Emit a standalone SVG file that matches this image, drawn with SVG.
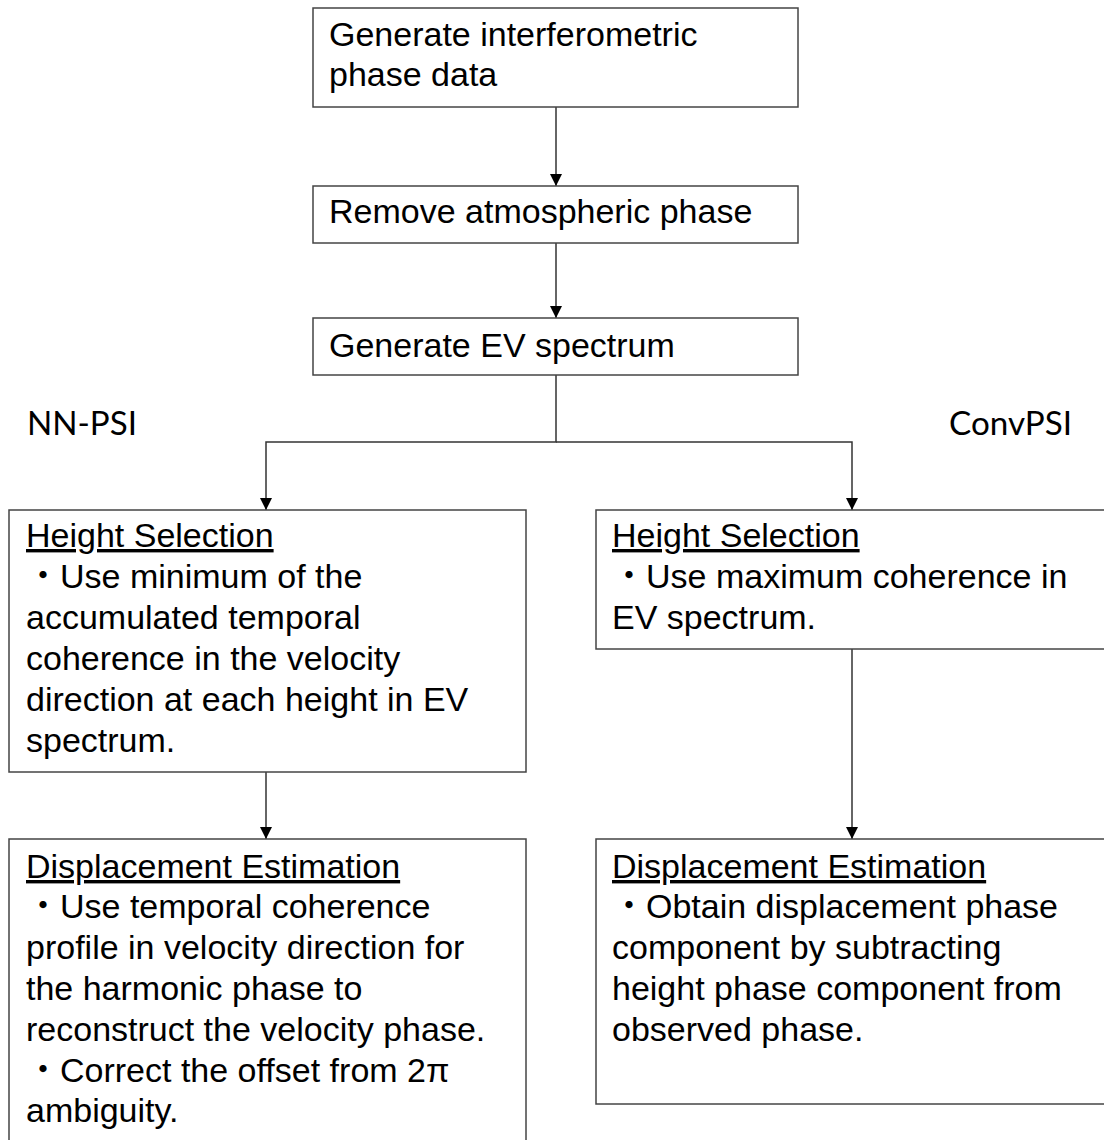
<svg xmlns="http://www.w3.org/2000/svg" width="1104" height="1140" viewBox="0 0 1104 1140">
<defs>
<style>
.box{fill:#fff;stroke:#444;stroke-width:1.5}
.t{font-family:"Liberation Sans","Noto Sans CJK JP",Arial,sans-serif;font-size:34px;fill:#000}
.u{text-decoration:underline}
.lbl{font-family:Lato,"Open Sans",sans-serif;font-size:32px;fill:#000}
.c{fill:none;stroke:#333;stroke-width:1.5}
</style>
<marker id="ah" markerUnits="userSpaceOnUse" markerWidth="12" markerHeight="12" refX="12" refY="6" orient="auto">
<path d="M0,0 L12,6 L0,12 z" fill="#000"/>
</marker>
</defs>
<rect width="1104" height="1140" fill="#fff"/>
<g id="connectors">
<path class="c" d="M556,107 V186" marker-end="url(#ah)"/>
<path class="c" d="M556,243 V318" marker-end="url(#ah)"/>
<path class="c" d="M556,375 V442 H266 V510" marker-end="url(#ah)"/>
<path class="c" d="M556,442 H852 V510" marker-end="url(#ah)"/>
<path class="c" d="M266,772 V839" marker-end="url(#ah)"/>
<path class="c" d="M852,649 V839" marker-end="url(#ah)"/>
</g>
<g id="n1">
<rect class="box" x="313" y="8" width="485" height="99"/>
<text class="t" x="329" y="46">Generate interferometric</text>
<text class="t" x="329" y="86">phase data</text>
</g>
<g id="n2">
<rect class="box" x="313" y="186" width="485" height="57"/>
<text class="t" x="329" y="223">Remove atmospheric phase</text>
</g>
<g id="n3">
<rect class="box" x="313" y="318" width="485" height="57"/>
<text class="t" x="329" y="357">Generate EV spectrum</text>
</g>
<g id="label-nnpsi">
<text class="lbl" x="27" y="435" textLength="110" lengthAdjust="spacingAndGlyphs">NN-PSI</text>
</g>
<g id="label-convpsi">
<text class="lbl" x="949" y="435" textLength="123" lengthAdjust="spacingAndGlyphs">ConvPSI</text>
</g>
<g id="n4">
<rect class="box" x="9" y="510" width="517" height="262"/>
<text class="t u" x="26" y="547">Height Selection</text>
<text class="t" x="26" y="588">・Use minimum of the</text>
<text class="t" x="26" y="629">accumulated temporal</text>
<text class="t" x="26" y="670">coherence in the velocity</text>
<text class="t" x="26" y="711">direction at each height in EV</text>
<text class="t" x="26" y="752">spectrum.</text>
</g>
<g id="n5">
<rect class="box" x="596" y="510" width="520" height="139"/>
<text class="t u" x="612" y="547">Height Selection</text>
<text class="t" x="612" y="588">・Use maximum coherence in</text>
<text class="t" x="612" y="629">EV spectrum.</text>
</g>
<g id="n6">
<rect class="box" x="9" y="839" width="517" height="320"/>
<text class="t u" x="26" y="878">Displacement Estimation</text>
<text class="t" x="26" y="918">・Use temporal coherence</text>
<text class="t" x="26" y="959">profile in velocity direction for</text>
<text class="t" x="26" y="1000">the harmonic phase to</text>
<text class="t" x="26" y="1041">reconstruct the velocity phase.</text>
<text class="t" x="26" y="1082">・Correct the offset from 2π</text>
<text class="t" x="26" y="1122">ambiguity.</text>
</g>
<g id="n7">
<rect class="box" x="596" y="839" width="520" height="265"/>
<text class="t u" x="612" y="878">Displacement Estimation</text>
<text class="t" x="612" y="918">・Obtain displacement phase</text>
<text class="t" x="612" y="959">component by subtracting</text>
<text class="t" x="612" y="1000">height phase component from</text>
<text class="t" x="612" y="1041">observed phase.</text>
</g>
</svg>
